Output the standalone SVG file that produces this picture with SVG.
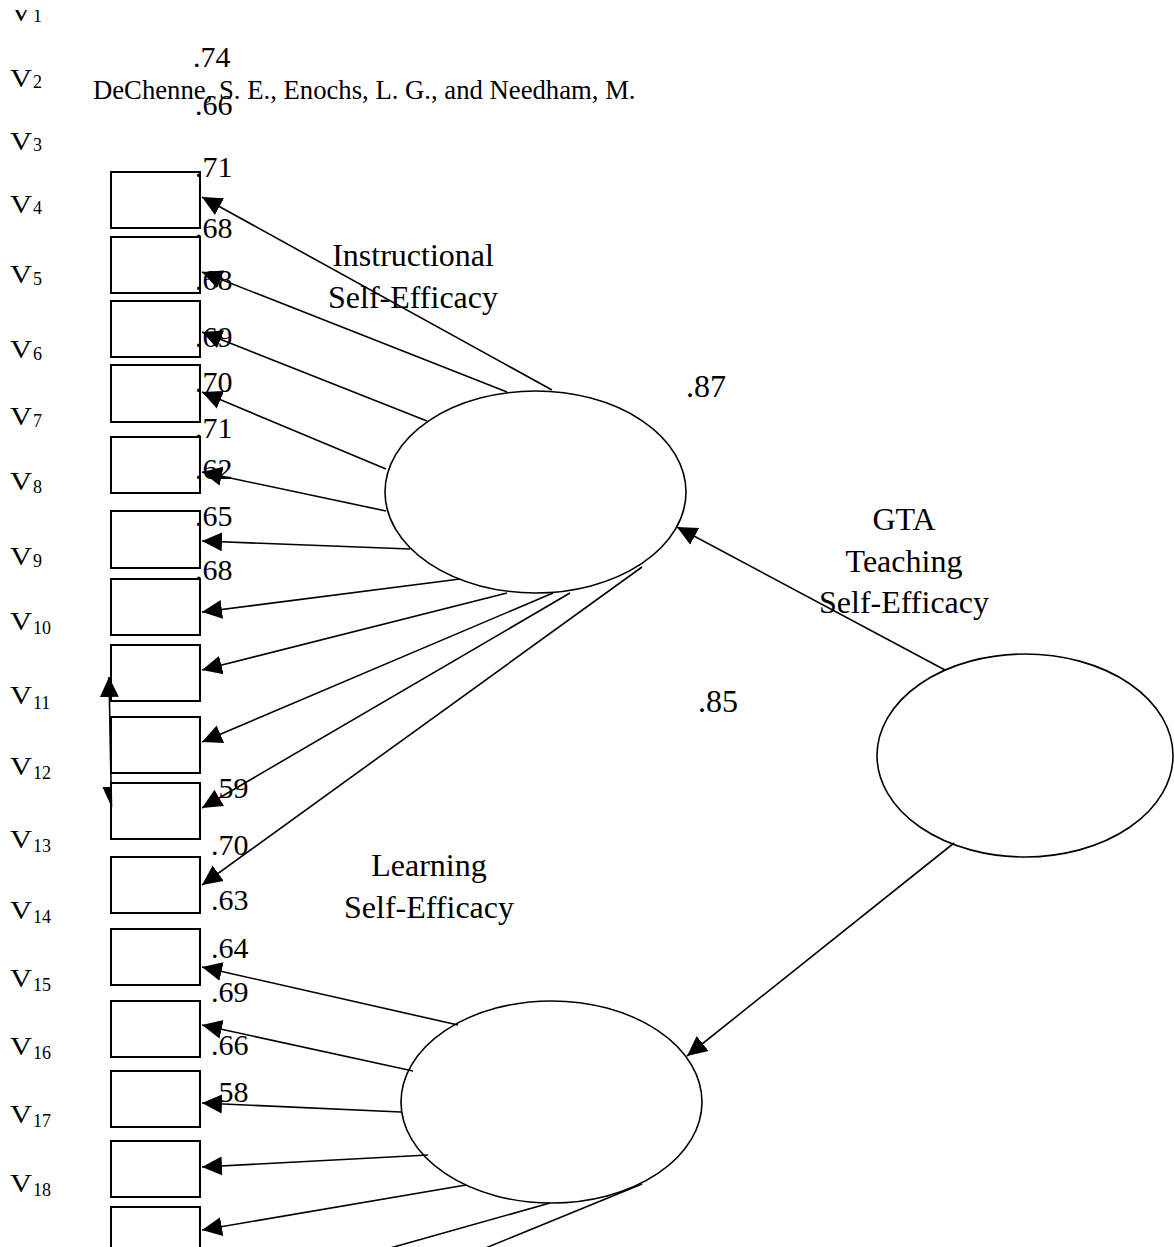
<svg xmlns="http://www.w3.org/2000/svg" width="1174" height="1247" viewBox="0 0 1174 1247">
<style>
text{font-family:"Liberation Serif","Times New Roman",serif;fill:#000}
.v{font-size:25px}
.sub{font-size:18px}
.num{font-size:30px}
.big{font-size:32px}
.hdr{font-size:26.7px}
.lbl{font-size:32px;text-anchor:middle}
.box{fill:#fff;stroke:#000;stroke-width:2}
.ell{fill:none;stroke:#000;stroke-width:1.6}
.ln{stroke:#000;stroke-width:1.6;fill:none;marker-end:url(#ah)}
</style>
<defs>
<marker id="ah" viewBox="0 -10 21 20" refX="20" refY="0" markerUnits="userSpaceOnUse" markerWidth="21" markerHeight="20" orient="auto-start-reverse">
<path d="M0,-9.5 L20,0 L0,9.5 z" fill="#000"/>
</marker>
<clipPath id="topclip"><rect x="0" y="10" width="200" height="40"/></clipPath>
</defs>
<rect width="1174" height="1247" fill="#fff"/>

<text class="hdr" x="93" y="99">DeChenne, S. E., Enochs, L. G., and Needham, M.</text>

<g id="v-labels">
<g clip-path="url(#topclip)"><text class="v" x="10" y="21" textLength="22" lengthAdjust="spacingAndGlyphs">V</text><text class="sub" x="33" y="22">1</text></g>
<text class="v" x="10" y="87" textLength="22" lengthAdjust="spacingAndGlyphs">V</text><text class="sub" x="33" y="88">2</text>
<text class="v" x="10" y="150" textLength="22" lengthAdjust="spacingAndGlyphs">V</text><text class="sub" x="33" y="151">3</text>
<text class="v" x="10" y="213" textLength="22" lengthAdjust="spacingAndGlyphs">V</text><text class="sub" x="33" y="214">4</text>
<text class="v" x="10" y="283" textLength="22" lengthAdjust="spacingAndGlyphs">V</text><text class="sub" x="33" y="285">5</text>
<text class="v" x="10" y="358" textLength="22" lengthAdjust="spacingAndGlyphs">V</text><text class="sub" x="33" y="360">6</text>
<text class="v" x="10" y="425" textLength="22" lengthAdjust="spacingAndGlyphs">V</text><text class="sub" x="33" y="427">7</text>
<text class="v" x="10" y="490" textLength="22" lengthAdjust="spacingAndGlyphs">V</text><text class="sub" x="33" y="493">8</text>
<text class="v" x="10" y="565" textLength="22" lengthAdjust="spacingAndGlyphs">V</text><text class="sub" x="33" y="567">9</text>
<text class="v" x="10" y="630" textLength="22" lengthAdjust="spacingAndGlyphs">V</text><text class="sub" x="33" y="634">10</text>
<text class="v" x="10" y="704" textLength="22" lengthAdjust="spacingAndGlyphs">V</text><text class="sub" x="33" y="709">11</text>
<text class="v" x="10" y="775" textLength="22" lengthAdjust="spacingAndGlyphs">V</text><text class="sub" x="33" y="779">12</text>
<text class="v" x="10" y="848" textLength="22" lengthAdjust="spacingAndGlyphs">V</text><text class="sub" x="33" y="852">13</text>
<text class="v" x="10" y="919" textLength="22" lengthAdjust="spacingAndGlyphs">V</text><text class="sub" x="33" y="923">14</text>
<text class="v" x="10" y="987" textLength="22" lengthAdjust="spacingAndGlyphs">V</text><text class="sub" x="33" y="991">15</text>
<text class="v" x="10" y="1055" textLength="22" lengthAdjust="spacingAndGlyphs">V</text><text class="sub" x="33" y="1059">16</text>
<text class="v" x="10" y="1123" textLength="22" lengthAdjust="spacingAndGlyphs">V</text><text class="sub" x="33" y="1127">17</text>
<text class="v" x="10" y="1192" textLength="22" lengthAdjust="spacingAndGlyphs">V</text><text class="sub" x="33" y="1196">18</text>
</g>

<g id="items">
<rect id="item1" class="box" x="111" y="172" width="89" height="56"/>
<rect id="item2" class="box" x="111" y="237" width="89" height="56"/>
<rect id="item3" class="box" x="111" y="301" width="89" height="56"/>
<rect id="item4" class="box" x="111" y="365" width="89" height="57"/>
<rect id="item5" class="box" x="111" y="437" width="89" height="56"/>
<rect id="item6" class="box" x="111" y="511" width="89" height="57"/>
<rect id="item7" class="box" x="111" y="579" width="89" height="56"/>
<rect id="item8" class="box" x="111" y="645" width="89" height="56"/>
<rect id="item9" class="box" x="111" y="717" width="89" height="56"/>
<rect id="item10" class="box" x="111" y="783" width="89" height="56"/>
<rect id="item11" class="box" x="111" y="857" width="89" height="56"/>
<rect id="item12" class="box" x="111" y="929" width="89" height="56"/>
<rect id="item13" class="box" x="111" y="1001" width="89" height="56"/>
<rect id="item14" class="box" x="111" y="1071" width="89" height="56"/>
<rect id="item15" class="box" x="111" y="1141" width="89" height="56"/>
<rect id="item16" class="box" x="111" y="1207" width="89" height="56"/>
</g>

<g id="loadings">
<text class="num" x="193" y="67">.74</text>
<text class="num" x="195" y="115">.66</text>
<text class="num" x="195" y="177">.71</text>
<text class="num" x="195" y="238">.68</text>
<text class="num" x="195" y="290">.68</text>
<text class="num" x="195" y="347">.69</text>
<text class="num" x="195" y="392">.70</text>
<text class="num" x="195" y="438">.71</text>
<text class="num" x="195" y="479">.62</text>
<text class="num" x="195" y="526">.65</text>
<text class="num" x="195" y="580">.68</text>
<text class="num" x="211" y="798">.59</text>
<text class="num" x="211" y="855">.70</text>
<text class="num" x="211" y="910">.63</text>
<text class="num" x="211" y="958">.64</text>
<text class="num" x="211" y="1002">.69</text>
<text class="num" x="211" y="1055">.66</text>
<text class="num" x="211" y="1102">.58</text>
</g>

<g id="instructional">
<ellipse class="ell" cx="535.5" cy="492" rx="150.5" ry="101"/>
<text class="lbl" x="413" y="266">Instructional</text>
<text class="lbl" x="413" y="308">Self-Efficacy</text>
</g>

<g id="gta">
<ellipse class="ell" cx="1025" cy="755.5" rx="148" ry="101.5"/>
<text class="lbl" x="904" y="530">GTA</text>
<text class="lbl" x="904" y="572">Teaching</text>
<text class="lbl" x="904" y="613">Self-Efficacy</text>
</g>

<g id="learning">
<ellipse class="ell" cx="551.5" cy="1102" rx="150.5" ry="101"/>
<text class="lbl" x="429" y="876">Learning</text>
<text class="lbl" x="429" y="918">Self-Efficacy</text>
</g>

<g id="paths">
<text class="big" x="686" y="397">.87</text>
<text class="big" x="698" y="712">.85</text>
</g>

<g id="connectors">
<line class="ln" x1="552" y1="390" x2="202" y2="197"/>
<line class="ln" x1="507" y1="392" x2="202" y2="272"/>
<line class="ln" x1="427" y1="421" x2="202" y2="332"/>
<line class="ln" x1="386" y1="469" x2="202" y2="392"/>
<line class="ln" x1="386" y1="511" x2="202" y2="472"/>
<line class="ln" x1="410" y1="549" x2="202" y2="541"/>
<line class="ln" x1="460" y1="579" x2="202" y2="612"/>
<line class="ln" x1="507" y1="593" x2="202" y2="670"/>
<line class="ln" x1="553" y1="593" x2="202" y2="742"/>
<line class="ln" x1="570" y1="593" x2="202" y2="808"/>
<line class="ln" x1="642" y1="567" x2="202" y2="885"/>
<line class="ln" x1="458" y1="1025" x2="202" y2="967"/>
<line class="ln" x1="413" y1="1071" x2="202" y2="1025"/>
<line class="ln" x1="401" y1="1112" x2="202" y2="1103"/>
<line class="ln" x1="428" y1="1155" x2="202" y2="1167"/>
<line class="ln" x1="466" y1="1185" x2="202" y2="1230"/>
<line class="ln" x1="550" y1="1203" x2="202" y2="1301"/>
<line class="ln" x1="642" y1="1184" x2="202" y2="1364"/>
<line class="ln" x1="945" y1="670" x2="677" y2="527"/>
<line class="ln" x1="954" y1="843" x2="687" y2="1056"/>
<line x1="111.5" y1="807" x2="109" y2="677" stroke="#000" stroke-width="1.6" marker-end="url(#ah)"/>
<polygon points="102.5,787 111.5,807 111.5,787" fill="#000"/>
</g>
</svg>
